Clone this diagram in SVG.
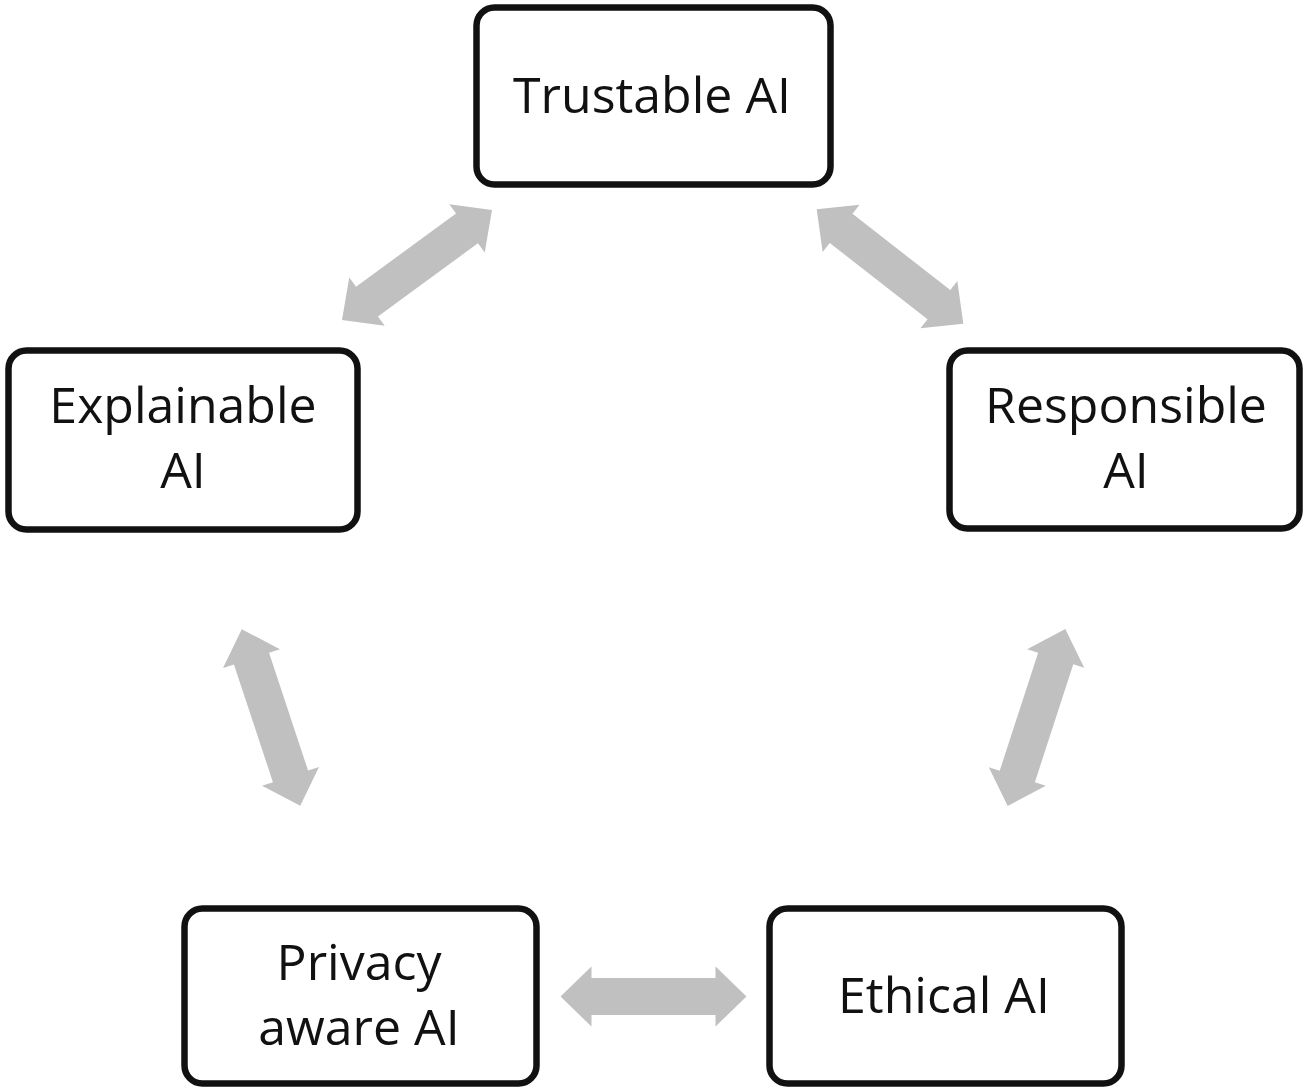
<svg xmlns="http://www.w3.org/2000/svg" xmlns:xlink="http://www.w3.org/1999/xlink" width="1309" height="1088" viewBox="0 0 1309 1088">
<style>
.box{fill:#fff;stroke:#111;stroke-width:6.5}
.lbl{font-family:"Open Sans","Liberation Sans",sans-serif;font-size:50px;fill:#111;text-anchor:middle}
.arr{fill:#c0c0c0}
</style>
<defs>
<path id="dbl" d="M -93 0 L -62 -30 L -62 -18.5 L 62 -18.5 L 62 -30 L 93 0 L 62 30 L 62 18.5 L -62 18.5 L -62 30 Z"/>
</defs>
<rect width="1309" height="1088" fill="#fff"/>
<g id="connectors">
<use xlink:href="#dbl" class="arr" transform="translate(417,265) rotate(-36.25)"/>
<use xlink:href="#dbl" class="arr" transform="translate(890,266.5) rotate(37.95)"/>
<use xlink:href="#dbl" class="arr" transform="translate(271,717.5) rotate(71.67)"/>
<use xlink:href="#dbl" class="arr" transform="translate(1036.5,717.5) rotate(108.04)"/>
<use xlink:href="#dbl" class="arr" transform="translate(653.5,996.5)"/>
</g>
<g id="trustable">
<rect class="box" x="476.5" y="7.5" width="354" height="177" rx="18"/>
<text class="lbl" x="652" y="113">Trustable AI</text>
</g>
<g id="explainable">
<rect class="box" x="8.5" y="350.5" width="349" height="179" rx="18"/>
<text class="lbl" x="183" y="423">Explainable</text>
<text class="lbl" x="183" y="488">AI</text>
</g>
<g id="responsible">
<rect class="box" x="949.5" y="350.5" width="350" height="178" rx="18"/>
<text class="lbl" x="1126" y="423">Responsible</text>
<text class="lbl" x="1126" y="488">AI</text>
</g>
<g id="privacy">
<rect class="box" x="184.5" y="908.5" width="352" height="175" rx="18"/>
<text class="lbl" x="359" y="980">Privacy</text>
<text class="lbl" x="359" y="1045">aware AI</text>
</g>
<g id="ethical">
<rect class="box" x="769.5" y="908.5" width="352" height="175" rx="18"/>
<text class="lbl" x="944" y="1013">Ethical AI</text>
</g>
</svg>
